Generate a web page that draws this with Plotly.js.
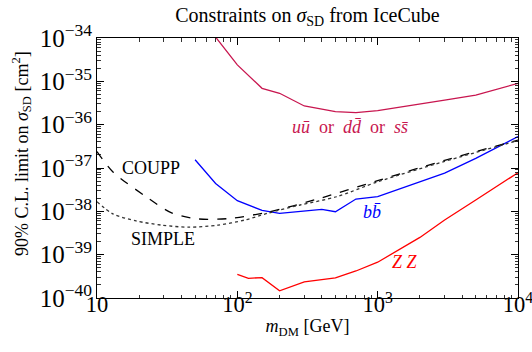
<!DOCTYPE html>
<html>
<head>
<meta charset="utf-8">
<script src="https://cdn.plot.ly/plotly-3.0.1.min.js"></script>
<style>html,body{margin:0;padding:0;background:#fff;}#chart{width:532px;height:352px;}</style>
</head>
<body>
<div id="chart"></div>
<script>
// u-ubar / d-dbar / s-sbar channel
const uuMass  = [70, 100, 150, 200, 300, 500, 700, 1000, 3000, 5000, 10000];
const uuSigma = [1.05e-34, 2.4e-35, 6.9e-36, 5.3e-36, 2.7e-36, 2.0e-36, 1.9e-36, 2.1e-36, 3.7e-36, 4.8e-36, 9.0e-36];
// b-bbar channel
const bbMass  = [50, 70, 100, 150, 200, 400, 500, 700, 1000, 3000, 5000, 10000];
const bbSigma = [1.55e-37, 4.4e-38, 1.76e-38, 1.05e-38, 9.0e-39, 1.11e-38, 9.8e-39, 1.92e-38, 2.19e-38, 7.6e-38, 1.67e-37, 5.3e-37];
// ZZ channel
const zzMass  = [100, 120, 150, 200, 300, 500, 700, 1000, 2000, 3000, 5000, 10000];
const zzSigma = [3.5e-40, 2.85e-40, 2.95e-40, 1.47e-40, 2.35e-40, 2.9e-40, 4.2e-40, 6.7e-40, 2.5e-39, 6.3e-39, 1.83e-38, 7.8e-38];
// COUPP limit
const couppMass  = [10, 13, 22, 34, 52, 86, 166, 358, 1000, 3000, 10000];
const couppSigma = [2.4e-37, 8.1e-38, 2.26e-38, 9.2e-39, 6.7e-39, 6.8e-39, 9.6e-39, 1.85e-38, 5.1e-38, 1.5e-37, 4.4e-37];
// SIMPLE limit
const simpleMass  = [10, 13, 19, 29, 45, 73, 113, 166, 280, 510, 1000, 3000, 10000];
const simpleSigma = [1.67e-38, 8.7e-39, 6.0e-39, 4.8e-39, 4.3e-39, 4.8e-39, 6.3e-39, 9.1e-39, 1.4e-38, 2.17e-38, 4.8e-38, 1.42e-37, 4.3e-37];

const serif = 'Liberation Serif, Times New Roman, serif';
const uuColor = '#c8164f';

const traces = [
  {x: uuMass, y: uuSigma, mode: 'lines', line: {color: uuColor, width: 1.3}, name: 'uu'},
  {x: bbMass, y: bbSigma, mode: 'lines', line: {color: '#0000ff', width: 1.3}, name: 'bb'},
  {x: zzMass, y: zzSigma, mode: 'lines', line: {color: '#ff0000', width: 1.3}, name: 'ZZ'},
  {x: couppMass, y: couppSigma, mode: 'lines', line: {color: '#000000', width: 1.3, dash: 'dash', shape: 'spline', smoothing: 0.8}, name: 'COUPP'},
  {x: simpleMass, y: simpleSigma, mode: 'lines', line: {color: '#333333', width: 1.3, dash: 'dot', shape: 'spline', smoothing: 0.8}, name: 'SIMPLE'}
];

const axisCommon = {
  type: 'log',
  dtick: 1,
  exponentformat: 'power',
  showgrid: false,
  zeroline: false,
  showline: true,
  linecolor: '#000',
  linewidth: 1,
  mirror: 'ticks',
  ticks: 'inside',
  ticklen: 7,
  tickwidth: 1,
  tickcolor: '#000',
  ticklabeloverflow: 'allow',
  tickfont: {family: serif, size: 20, color: '#000'},
  minor: {ticks: 'inside', ticklen: 3.5, tickwidth: 0.8, tickcolor: '#000', dtick: 'D1', showgrid: false}
};

const layout = {
  width: 532, height: 352,
  margin: {l: 97, r: 14, t: 38, b: 54},
  paper_bgcolor: '#fff', plot_bgcolor: '#fff',
  showlegend: false,
  title: {text: 'Constraints on <i>σ</i><sub>SD</sub> from IceCube', font: {family: serif, size: 20, color: '#000'},
          x: 0.578, xanchor: 'center', y: 0.958, yanchor: 'middle', yref: 'container'},
  xaxis: Object.assign({}, axisCommon, {range: [0.99999, 4.00001], ticklabelstandoff: -13,
    tickfont: {family: serif, size: 18, color: '#000'},
    title: {text: '<i>m</i><sub>DM</sub> [GeV]', font: {family: serif, size: 18, color: '#000'}, standoff: 3}}),
  yaxis: Object.assign({}, axisCommon, {range: [-40.00001, -33.99999]}),
  annotations: [
    {xref: 'paper', yref: 'paper', x: -0.178, y: 0.554, xanchor: 'center', yanchor: 'middle', textangle: -90, showarrow: false,
     text: '90% C.L. limit on <i>σ</i><sub>SD</sub> [cm<sup>2</sup>]', font: {family: serif, size: 18, color: '#000'}},
    {x: 1.385, y: -37.0, text: 'COUPP', showarrow: false, font: {family: serif, size: 18, color: '#000'}},
    {x: 1.47, y: -38.64, text: 'SIMPLE', showarrow: false, font: {family: serif, size: 18, color: '#000'}},
    {x: 2.803, y: -36.05, text: '<i>u\u016B</i>  or  <i>dd\u0304</i>  or  <i>ss\u0304</i>', showarrow: false, font: {family: serif, size: 18, color: uuColor}},
    {x: 2.957, y: -38.02, text: '<i>bb\u0304</i>', showarrow: false, font: {family: serif, size: 18, color: '#0000ff'}},
    {x: 3.195, y: -39.17, text: '<i>Z Z</i>', showarrow: false, font: {family: serif, size: 18, color: '#ff0000'}}
  ]
};

Plotly.newPlot('chart', traces, layout, {displayModeBar: false, staticPlot: true});
</script>
</body>
</html>
